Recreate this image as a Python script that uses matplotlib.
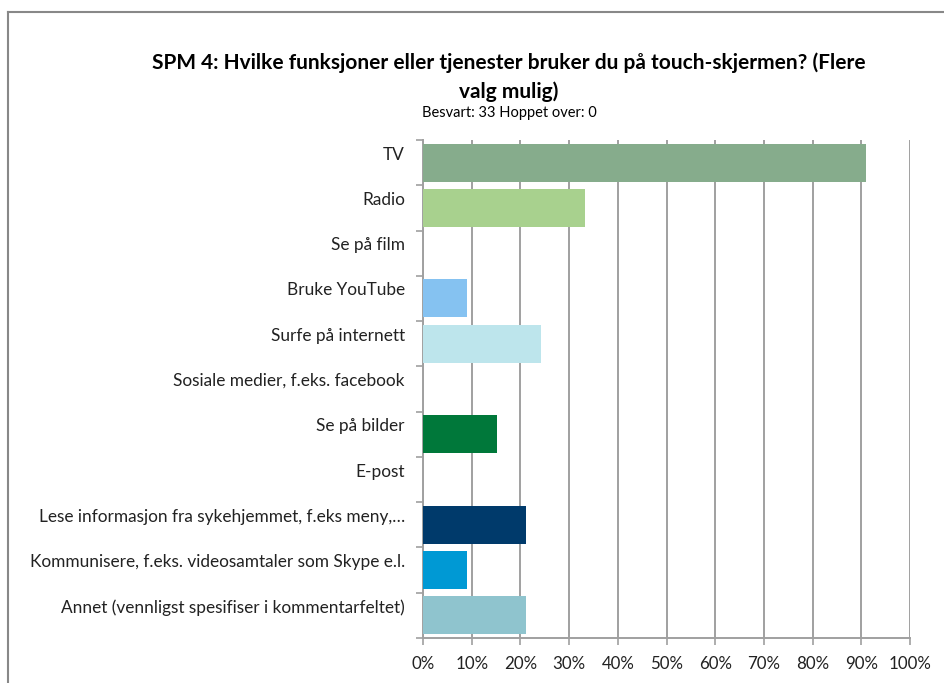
import matplotlib
matplotlib.use("Agg")
import matplotlib.pyplot as plt
from matplotlib.lines import Line2D
from matplotlib.transforms import ScaledTranslation
import numpy as np

# data
categories = ["TV", "Radio", "Se på film", "Bruke YouTube", "Surfe på internett",
              "Sosiale medier, f.eks. facebook", "Se på bilder", "E-post",
              "Lese informasjon fra sykehjemmet, f.eks meny,…",
              "Kommunisere, f.eks. videosamtaler som Skype e.l.",
              "Annet (vennligst spesifiser i kommentarfeltet)"]
values = [90.91, 33.33, 0, 9.09, 24.24, 0, 15.15, 0, 21.21, 9.09, 21.21]
colors = ["#86AC8C", "#A8D18E", "#FFFFFF", "#85C2F1", "#BDE5EC", "#FFFFFF",
          "#00783A", "#FFFFFF", "#003A6B", "#0099D4", "#8FC4CE"]
xticks = np.arange(0, 101, 10)
xticklabels = [f"{t}%" for t in xticks]

title = "SPM 4: Hvilke funksjoner eller tjenester bruker du på touch-skjermen? (Flere\nvalg mulig)"
subtitle = "Besvart: 33 Hoppet over: 0"

plt.rcParams['font.family'] = ['Lato', 'DejaVu Sans']

W, H = 945, 683
fig = plt.figure(figsize=(W/100, H/100), dpi=100)
ax = fig.add_axes([423/W, 1-638/H, 487/W, 498/H])

n = len(categories)
y = np.arange(n)
ax.barh(y, values, height=0.84, color=colors, zorder=3)
ax.set_ylim(n-0.5, -0.5)
ax.set_xlim(0, 100)

grey = "#A0A0A0"
ax.set_xticks(xticks)
ax.set_xticklabels(xticklabels, fontsize=12.2, color="#222222")
ax.xaxis.grid(True, color=grey, linewidth=1.4, zorder=0)
ax.tick_params(axis='x', direction='out', length=5, width=1.2, color=grey, pad=8)

# ticks at band edges, labels at centres
ax.set_yticks(np.arange(-0.5, n, 1))
ax.set_yticklabels([])
ax.tick_params(axis='y', which='major', direction='out', length=5, width=1.2, color=grey)
ax.set_yticks(y, minor=True)
ax.set_yticklabels(categories, minor=True, fontsize=12.4, color="#222222")
ax.tick_params(axis='y', which='minor', length=0, pad=13)
offset = ScaledTranslation(0, 9.5/100, fig.dpi_scale_trans)
for lab in ax.get_yticklabels(minor=True):
    lab.set_transform(lab.get_transform() + offset)

for s in ['top', 'right']:
    ax.spines[s].set_visible(False)
for s in ['left', 'bottom']:
    ax.spines[s].set_color(grey)
    ax.spines[s].set_linewidth(1.4)

fig.text(509/W, 1-77/H, title, ha='center', va='center', fontsize=15,
         fontweight='bold', linespacing=1.5)
fig.text(509/W, 1-113/H, subtitle, ha='center', va='center', fontsize=10.5)

# outer frame
fig.add_artist(Line2D([8/W, 8/W], [0, 1-12/H], color="#888888", linewidth=1.5))
fig.add_artist(Line2D([8/W, 1], [1-12/H, 1-12/H], color="#888888", linewidth=1.5))

fig.savefig("out.png", dpi=100)
